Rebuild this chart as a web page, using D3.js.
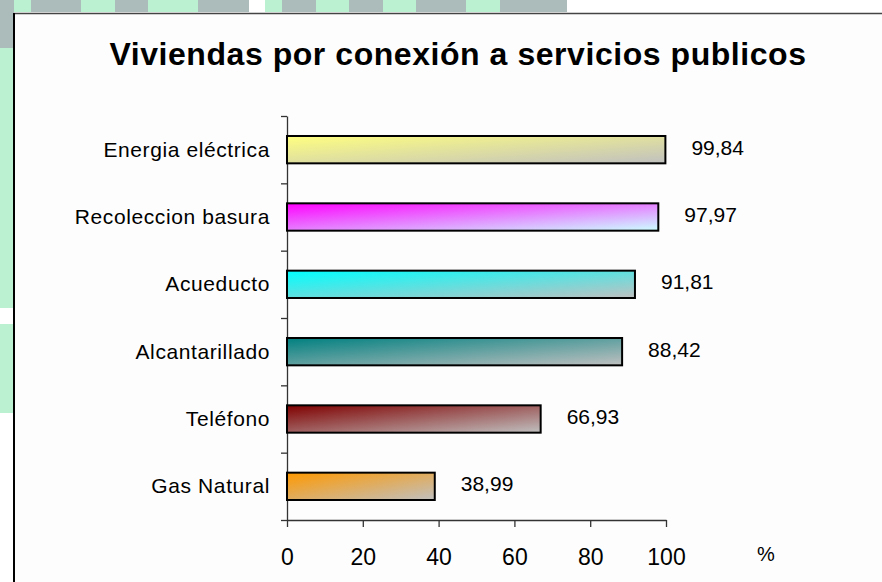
<!DOCTYPE html>
<html>
<head>
<meta charset="utf-8">
<script src="https://cdn.jsdelivr.net/npm/d3@7"></script>
<style>
  body { margin: 0; background: #fff; }
  svg { display: block; font-family: Arial, "Liberation Sans", sans-serif; }
</style>
</head>
<body>
<div id="chart"></div>
<script>
var title = "Viviendas por conexión a servicios publicos";
var categories = ["Energia eléctrica", "Recoleccion basura", "Acueducto", "Alcantarillado", "Teléfono", "Gas Natural"];
var values = [99.84, 97.97, 91.81, 88.42, 66.93, 38.99];
var valueLabels = ["99,84", "97,97", "91,81", "88,42", "66,93", "38,99"];
var xTicks = [0, 20, 40, 60, 80, 100];
var unitLabel = "%";
var startColors = ["#ffff80", "#ff00ff", "#00ffff", "#008080", "#800000", "#ff9900"];
var endColors = ["#c0c0c0", "#ccffff", "#c0c0c0", "#c0c0c0", "#c0c0c0", "#c0c0c0"];

// slide background peeking out above and left of the chart
var topStrip = [[0, 14, "g"], [14, 31, "l"], [31, 81, "g"], [81, 115, "l"], [115, 148, "g"],
                [148, 198, "l"], [198, 249, "g"], [265, 282, "l"], [282, 316, "g"], [316, 349, "l"],
                [349, 383, "g"], [383, 416, "l"], [416, 466, "g"], [466, 500, "l"], [500, 567, "g"]];
var leftStrip = [[0, 48, "g"], [48, 308, "l"], [324, 413, "l"]];
var stripColor = { g: "#abbcba", l: "#bbf1d1" };

var width = 882, height = 582;

var svg = d3.select("#chart")
            .append("svg")
              .attr("width", width)
              .attr("height", height);

svg.selectAll(".strip-top")
   .data(topStrip)
   .enter()
   .append("rect")
     .attr("x", function(d) { return d[0]; })
     .attr("width", function(d) { return d[1] - d[0]; })
     .attr("y", 0)
     .attr("height", 12)
     .attr("fill", function(d) { return stripColor[d[2]]; });

svg.selectAll(".strip-left")
   .data(leftStrip)
   .enter()
   .append("rect")
     .attr("x", 0)
     .attr("width", 14)
     .attr("y", function(d) { return d[0]; })
     .attr("height", function(d) { return d[1] - d[0]; })
     .attr("fill", function(d) { return stripColor[d[2]]; });

// chart frame
svg.append("rect")
   .attr("x", 14).attr("y", 13)
   .attr("width", width - 14).attr("height", height - 13)
   .attr("fill", "#fdfdfd");
svg.append("line")
   .attr("x1", 14).attr("x2", width).attr("y1", 13.5).attr("y2", 13.5)
   .attr("stroke", "#444").attr("stroke-width", 1.5);
svg.append("line")
   .attr("x1", 14).attr("x2", 14).attr("y1", 13).attr("y2", height)
   .attr("stroke", "#000").attr("stroke-width", 2);

var plotTop = 116, plotBottom = 520, plotLeft = 287, plotRight = 666;

var x = d3.scaleLinear().domain([0, 100]).range([plotLeft, plotRight]);
var y = d3.scaleBand()
          .domain(categories)
          .range([plotTop, plotBottom])
          .paddingInner(0.594)
          .paddingOuter(0.297);
var yEdge = d3.scaleLinear().domain([0, categories.length]).range([plotTop, plotBottom]);

var defs = svg.append("defs");
var grads = defs.selectAll("linearGradient")
                .data(categories)
                .enter()
                .append("linearGradient")
                  .attr("id", function(d, i) { return "grad" + i; })
                  .attr("x1", 0).attr("y1", 0)
                  .attr("x2", 1).attr("y2", 1);
grads.append("stop")
     .attr("offset", "0%")
     .attr("stop-color", function(d, i) { return startColors[i]; });
grads.append("stop")
     .attr("offset", "100%")
     .attr("stop-color", function(d, i) { return endColors[i]; });

svg.append("text")
   .text(title)
   .attr("x", 458)
   .attr("y", 65)
   .attr("text-anchor", "middle")
   .attr("font-size", 32)
   .attr("font-weight", "bold")
   .attr("letter-spacing", 0.55)
   .attr("fill", "#000");

// axes
var xAxis = svg.append("g")
               .attr("transform", "translate(0," + plotBottom + ")")
               .call(d3.axisBottom(x).tickValues(xTicks).tickSize(7).tickSizeOuter(0).tickPadding(22));
xAxis.selectAll("text").attr("font-size", 23).attr("fill", "#000").attr("font-family", null);
xAxis.selectAll("line, path").attr("stroke", "#333").attr("stroke-width", 1.3);

var yAxis = svg.append("g")
               .attr("transform", "translate(" + plotLeft + ",0)")
               .call(d3.axisLeft(yEdge).tickValues(d3.range(categories.length + 1))
                       .tickSize(6).tickSizeOuter(0).tickFormat(""));
yAxis.selectAll("line, path").attr("stroke", "#333").attr("stroke-width", 1.3);

svg.append("text")
   .text(unitLabel)
   .attr("x", 766)
   .attr("y", 561)
   .attr("text-anchor", "middle")
   .attr("font-size", 20)
   .attr("fill", "#000");

// bars
svg.selectAll(".bar")
   .data(values)
   .enter()
   .append("rect")
     .attr("class", "bar")
     .attr("x", x(0))
     .attr("y", function(d, i) { return y(categories[i]); })
     .attr("width", function(d) { return x(d) - x(0); })
     .attr("height", y.bandwidth())
     .attr("fill", function(d, i) { return "url(#grad" + i + ")"; })
     .attr("stroke", "#000")
     .attr("stroke-width", 2);

svg.selectAll(".bar-text")
   .data(values)
   .enter()
   .append("text")
     .text(function(d, i) { return valueLabels[i]; })
     .attr("class", "bar-text")
     .attr("x", function(d) { return x(d) + 26; })
     .attr("y", function(d, i) { return y(categories[i]) + y.bandwidth() / 2 + 5; })
     .attr("font-size", 21)
     .attr("fill", "#000");

svg.selectAll(".label-text")
   .data(categories)
   .enter()
   .append("text")
     .text(function(d) { return d; })
     .attr("class", "label-text")
     .attr("x", 270)
     .attr("y", function(d) { return y(d) + y.bandwidth() / 2 + 7; })
     .attr("text-anchor", "end")
     .attr("font-size", 21)
     .attr("letter-spacing", 0.6)
     .attr("fill", "#000");
</script>
</body>
</html>
